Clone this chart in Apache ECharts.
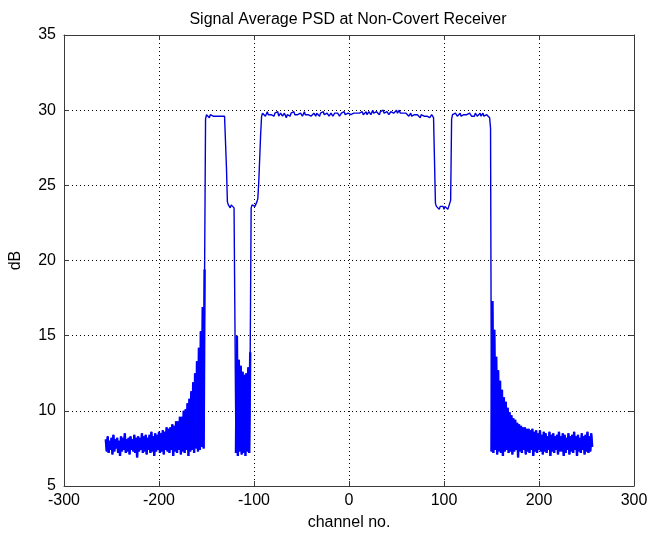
<!DOCTYPE html>
<html>
<head>
<meta charset="utf-8">
<script src="https://cdn.jsdelivr.net/npm/echarts@6/dist/echarts.min.js"></script>
<style>
html,body{margin:0;padding:0;background:#fff;}
#chart{width:652px;height:537px;}
</style>
</head>
<body>
<div id="chart"></div>
<script>
// Channel numbers start here and run contiguously through all value arrays below
var firstChannel = -256;

// channels -256 .. -152 (left out-of-band tail)
var tailLeft = [8.1,7.3, 8.3,7.2, 8.0,7.4, 8.2,7.1, 8.4,7.3, 8.1,7.5, 8.2,7.2, 8.0,7.0, 8.3,7.3, 8.2,7.4,
  8.5,7.2, 8.1,7.3, 8.2,7.1, 8.3,7.4, 8.1,7.3, 8.4,7.2, 8.2,6.9, 8.3,7.3, 8.2,7.4, 8.5,7.2,
  8.3,7.3, 8.4,7.1, 8.2,7.4, 8.4,7.2, 8.6,7.3, 8.3,7.0, 8.5,7.3, 8.4,7.4, 8.6,7.2, 8.5,7.3,
  8.7,7.1, 8.6,7.4, 8.9,7.3, 8.8,7.2, 8.9,7.4, 9.1,7.0, 9.0,7.3, 9.3,7.2, 9.3,7.4, 9.6,7.1,
  9.6,7.3, 10.0,7.2, 10.1,7.4, 10.5,7.0, 10.8,7.3, 11.3,7.4, 11.9,7.2, 12.5,7.5, 13.3,7.3, 14.2,7.4,
  15.3,7.6, 16.9,7.5, 19.4];
// channels -151 .. -129
var bandA = [29.4,29.7,29.6,29.8,29.5,29.7,29.6,29.7,29.6,29.5,29.7,29.6,29.7,29.6,29.6,29.7,29.5,29.6,29.7,29.6,29.6,29.5,26.2];
// channels -128 .. -120
var notchA = [23.9,23.7,23.8,23.5,23.7,23.6,23.8,23.5,23.4];
// channels -119 .. -104
var gapLow = [7.2,15.0,7.0,13.4,7.3,13.0,7.1,12.6,7.2,12.4,7.0,12.5,7.3,12.9,7.2,13.9];
// channels -103 .. -96
var notchB = [23.5,23.7,23.6,23.8,23.6,23.7,23.9,24.1];
// channels -95 .. -93 (rising edge)
var riseB = [25.2,26.8,28.4];
// channels -92 .. 89
var bandMain = [
  29.6,29.8,29.7,29.8,29.6,29.7,29.9,29.7,29.8,29.6,
  29.7,29.8,29.7,29.6,29.8,29.7,29.7,29.9,29.6,29.7,
  29.8,29.7,29.6,29.7,29.8,29.7,29.5,29.7,29.8,29.7,
  29.6,29.8,29.7,29.7,29.9,29.7,29.6,29.8,29.7,29.6,
  29.7,29.8,29.7,29.6,29.7,29.9,29.7,29.8,29.6,29.7,
  29.7,29.8,29.6,29.7,29.7,29.8,29.7,29.6,29.8,29.7,
  29.7,29.6,29.8,29.7,29.7,29.9,29.7,29.6,29.7,29.8,
  29.7,29.6,29.7,29.8,29.7,29.6,29.7,29.8,29.7,29.7,
  29.8,29.7,29.6,29.7,29.8,29.7,29.7,29.9,29.7,29.8,
  29.7,29.8,29.7,29.9,29.7,29.8,29.7,29.8,29.9,29.7,
  29.8,29.7,29.9,29.8,29.7,29.8,29.9,29.7,29.8,29.8,
  29.9,29.7,29.8,29.9,29.8,29.7,29.8,30.0,29.8,29.7,
  29.8,29.9,29.8,29.8,29.7,29.9,29.8,29.8,30.0,29.8,
  29.7,29.8,29.9,29.8,29.7,29.8,29.9,29.8,30.0,29.8,
  29.9,29.8,30.0,29.8,29.9,30.0,29.8,29.9,29.7,29.8,
  29.9,29.7,29.8,29.7,29.8,29.6,29.7,29.8,29.6,29.7,
  29.6,29.7,29.8,29.6,29.7,29.6,29.7,29.5,29.7,29.6,
  29.7,29.6,29.5,29.7,29.6,29.7,29.6,29.5,29.6,29.7,
  29.6,29.5];
// channels 90 .. 107
var notchC = [29.4,23.8,23.6,23.5,23.7,23.4,23.6,23.5,23.7,23.6,23.4,23.6,23.5,23.7,23.4,23.6,23.8,24.0];
// channels 108 .. 149
var bandB = [29.4,
  29.7,29.6,29.7,29.8,29.7,29.6,29.7,29.7,29.8,29.6,
  29.7,29.6,29.7,29.8,29.7,29.7,29.6,29.7,29.8,29.7,
  29.6,29.7,29.7,29.6,29.8,29.7,29.6,29.7,29.7,29.8,
  29.6,29.7,29.8,29.6,29.7,29.5,29.7,29.6,29.7,29.5,
  28.8];
// channels 150 .. 256 (right out-of-band tail)
var tailRight = [7.3,17.3, 7.2,15.4, 7.4,13.6, 7.1,12.7, 7.3,12.0, 7.2,11.4, 7.0,10.9, 7.3,10.6, 7.4,10.2, 7.2,9.9,
  7.3,9.7, 7.1,9.5, 7.3,9.4, 7.4,9.2, 6.9,9.1, 7.3,9.0, 7.2,8.9, 7.4,8.9, 7.1,8.8, 7.3,8.8,
  7.2,8.7, 7.4,8.8, 7.0,8.6, 7.3,8.7, 7.2,8.5, 7.4,8.7, 7.3,8.4, 7.1,8.6, 7.3,8.5, 7.2,8.3,
  7.4,8.6, 7.0,8.4, 7.3,8.5, 7.2,8.3, 7.4,8.4, 7.1,8.6, 7.3,8.3, 7.3,8.5, 7.0,8.4, 7.2,8.2,
  7.4,8.5, 7.1,8.3, 7.3,8.4, 7.2,8.6, 7.4,8.3, 7.0,8.4, 7.3,8.2, 7.2,8.5, 7.4,8.3, 7.1,8.4,
  7.3,8.6, 7.2,8.3, 7.3,8.5, 7.6];

var xTicks = [-300, -200, -100, 0, 100, 200, 300];
var yTicks = [5, 10, 15, 20, 25, 30, 35];

// Build [channel, value] pairs for each segment (channels are contiguous)
var segments = [tailLeft, bandA, notchA, gapLow, notchB, riseB, bandMain, notchC, bandB, tailRight];
var noisySegments = [tailLeft, gapLow, tailRight];
var seriesData = [];
var noisyData = [];
var ch = firstChannel;
segments.forEach(function (seg) {
  var noisy = noisySegments.indexOf(seg) >= 0;
  seg.forEach(function (v) {
    seriesData.push([ch, v]);
    if (noisy) noisyData.push([ch, v]);
    ch++;
  });
  if (noisy) noisyData.push([ch - 0.5, null]);
});

var FONT = "'Liberation Sans', Arial, Helvetica, sans-serif";
var axisLineStyle = { color: '#3a3a3a', width: 1 };

var chart = echarts.init(document.getElementById('chart'), null, { renderer: 'canvas' });
chart.setOption({
  animation: false,
  backgroundColor: '#ffffff',
  title: {
    text: 'Signal Average PSD at Non-Covert Receiver',
    left: 348, top: 12, padding: 0, textAlign: 'center',
    textStyle: { fontFamily: FONT, fontSize: 16, fontWeight: 'normal', color: '#000' }
  },
  grid: { left: 63, right: 18, top: 35, bottom: 51, containLabel: false },
  xAxis: [{
    type: 'value', min: xTicks[0], max: xTicks[xTicks.length - 1], interval: 100,
    name: 'channel no.', nameLocation: 'middle', nameGap: 29,
    nameTextStyle: { fontFamily: FONT, fontSize: 16, color: '#000' },
    axisLine: { show: true, onZero: false, lineStyle: axisLineStyle },
    axisTick: { show: true, inside: true, length: 5, lineStyle: axisLineStyle },
    axisLabel: { fontFamily: FONT, fontSize: 16, color: '#000', margin: 7 },
    splitLine: { show: true, lineStyle: { color: '#000', width: 1, type: [1, 3] } }
  }, {
    type: 'value', position: 'top', min: xTicks[0], max: xTicks[xTicks.length - 1], interval: 100,
    axisLine: { show: true, onZero: false, lineStyle: axisLineStyle },
    axisTick: { show: true, inside: true, length: 5, lineStyle: axisLineStyle },
    axisLabel: { show: false }, splitLine: { show: false }
  }],
  yAxis: [{
    type: 'value', min: yTicks[0], max: yTicks[yTicks.length - 1], interval: 5,
    name: 'dB', nameLocation: 'middle', nameGap: 40, nameRotate: 90,
    nameTextStyle: { fontFamily: FONT, fontSize: 16, color: '#000' },
    axisLine: { show: true, onZero: false, lineStyle: axisLineStyle },
    axisTick: { show: true, inside: true, length: 5, lineStyle: axisLineStyle },
    axisLabel: { fontFamily: FONT, fontSize: 16, color: '#000', margin: 8 },
    splitLine: { show: true, lineStyle: { color: '#000', width: 1, type: [1, 3] } }
  }, {
    type: 'value', position: 'right', min: yTicks[0], max: yTicks[yTicks.length - 1], interval: 5,
    axisLine: { show: true, onZero: false, lineStyle: axisLineStyle },
    axisTick: { show: true, inside: true, length: 5, lineStyle: axisLineStyle },
    axisLabel: { show: false }, splitLine: { show: false }
  }],
  series: [{
    name: 'PSD',
    type: 'line',
    data: seriesData,
    xAxisIndex: 0, yAxisIndex: 0,
    showSymbol: false,
    symbol: 'none',
    sampling: null,
    lineStyle: { color: '#0000dd', width: 1.4 },
    itemStyle: { color: '#0000dd' },
    z: 3
  }, {
    name: 'PSD (out-of-band)',
    type: 'line',
    data: noisyData,
    xAxisIndex: 0, yAxisIndex: 0,
    showSymbol: false,
    symbol: 'none',
    sampling: null,
    connectNulls: false,
    lineStyle: { color: '#0000ff', width: 2.4, join: 'bevel' },
    itemStyle: { color: '#0000ff' },
    z: 4
  }]
});
</script>
</body>
</html>
